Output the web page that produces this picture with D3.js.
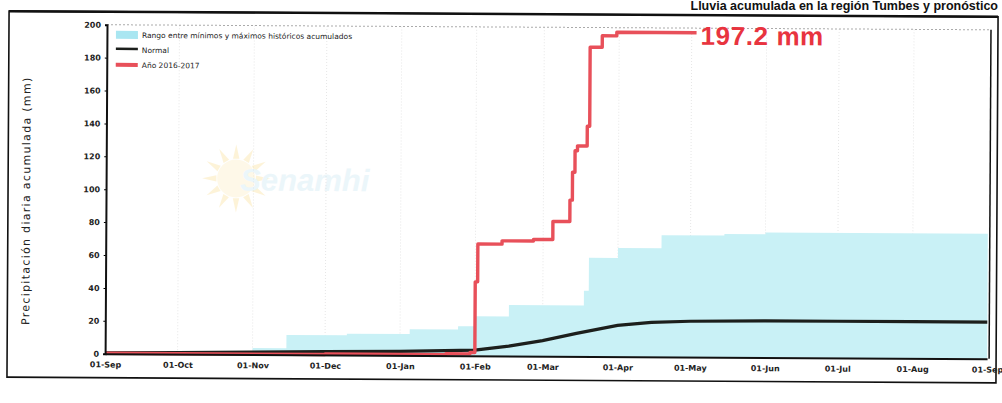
<!DOCTYPE html>
<html>
<head>
<meta charset="utf-8">
<script src="https://cdn.jsdelivr.net/npm/d3@7"></script>
<style>
  html, body { margin: 0; padding: 0; background: #fff; }
  svg { display: block; }
</style>
</head>
<body>
<svg id="chart" width="1002" height="403"></svg>
<script>
// Month ticks along the season (Sep 2016 - Sep 2017)
const monthTicks = ["2016-09-01","2016-10-01","2016-11-01","2016-12-01","2017-01-01","2017-02-01",
  "2017-03-01","2017-04-01","2017-05-01","2017-06-01","2017-07-01","2017-08-01","2017-09-01"];
const monthLabels = ["01-Sep","01-Oct","01-Nov","01-Dec","01-Jan","01-Feb",
  "01-Mar","01-Apr","01-May","01-Jun","01-Jul","01-Aug","01-Sep"];
const yTicks = [0,20,40,60,80,100,120,140,160,180,200];

// Historical max/min envelope of accumulated precipitation (upper edge, mm)
const rangeDates = ["2016-09-01","2016-10-15","2016-11-01","2016-11-15","2016-12-10","2017-01-05",
  "2017-01-25","2017-02-01","2017-02-15","2017-03-18","2017-03-20","2017-04-01","2017-04-19",
  "2017-05-15","2017-06-01","2017-09-01"];
const rangeUpper = [1,2,4,12,13,16,18,24,31,40,60,66,74,75,76,76];

// Climatological normal (mm)
const normalDates = ["2016-09-01","2016-10-01","2016-11-01","2016-12-01","2017-01-01","2017-02-01",
  "2017-02-15","2017-03-01","2017-03-15","2017-04-01","2017-04-15","2017-05-01","2017-06-01",
  "2017-07-01","2017-08-01","2017-09-01"];
const normalValues = [0.5,1,1.5,2,2.5,3.5,6,9.5,14,19,21,21.8,22.3,22.3,22.3,22.3];

// Season 2016-2017 accumulated precipitation (mm)
const seasonDates = ["2016-09-01","2016-12-01","2017-01-20","2017-01-30","2017-02-01","2017-02-02",
  "2017-02-12","2017-02-25","2017-03-05","2017-03-12","2017-03-13","2017-03-14","2017-03-15",
  "2017-03-19","2017-03-20","2017-03-25","2017-03-31","2017-05-03"];
const seasonValues = [0.3,0.6,1.2,2,45,68,70,71,82,95,112,125,128,140,188,195,197.2,197.2];

const totalLabel = "197.2 mm";
const legendLabels = ["Rango entre mínimos y máximos históricos acumulados", "Normal", "Año 2016-2017"];
const headingText = "Lluvia acumulada en la región Tumbes y pronóstico";

const parse = d3.timeParse("%Y-%m-%d");
const svg = d3.select("#chart");

// Heading above the frame, flush right
svg.append("text")
  .attr("x", 998).attr("y", 10).attr("text-anchor", "end")
  .attr("font-family", "Liberation Sans, Arial, sans-serif")
  .attr("font-weight", "bold").attr("font-size", 12.5).attr("fill", "#111")
  .text(headingText);

// Whole sheet is slightly skewed, as on the printed page
const g = svg.append("g").attr("transform", "rotate(0.33 501 200)");

// Outer frame
g.append("line").attr("x1", 8).attr("x2", 997).attr("y1", 14).attr("y2", 14)
  .attr("stroke", "#111").attr("stroke-width", 2.5);
g.append("rect").attr("x", 8).attr("y", 14).attr("width", 989).attr("height", 366)
  .attr("fill", "none").attr("stroke", "#111").attr("stroke-width", 1.6);

const x = d3.scaleTime().domain([parse("2016-09-01"), parse("2017-09-01")]).range([106, 988]);
const y = d3.scaleLinear().domain([0, 200]).range([356, 27]);

// Faint month gridlines and top gridline
g.append("g").selectAll("line").data(monthTicks.slice(1, -1)).join("line")
  .attr("x1", d => x(parse(d))).attr("x2", d => x(parse(d)))
  .attr("y1", y(200)).attr("y2", y(0))
  .attr("stroke", "#e6e6e6").attr("stroke-width", 1).attr("stroke-dasharray", "1,2");
g.append("line").attr("x1", x.range()[0]).attr("x2", 990)
  .attr("y1", y(200)).attr("y2", y(200))
  .attr("stroke", "#aaa").attr("stroke-width", 1).attr("stroke-dasharray", "2,2");

// Watermark
const wm = g.append("g").attr("opacity", 0.4);
const sunC = [236, 180];
wm.selectAll("path.ray").data(d3.range(12)).join("path")
  .attr("d", d => {
    const a = d * Math.PI / 6;
    const r0 = 20, r1 = 34, w = 0.16;
    const p = (r, t) => [sunC[0] + r * Math.cos(t), sunC[1] + r * Math.sin(t)];
    return "M" + p(r0, a - w) + "L" + p(r1, a) + "L" + p(r0, a + w) + "Z";
  })
  .attr("fill", "#fbe3a0");
wm.append("circle").attr("cx", sunC[0]).attr("cy", sunC[1]).attr("r", 19).attr("fill", "#fdf0c8");
wm.append("text").attr("x", 240).attr("y", 192)
  .attr("font-family", "Liberation Sans, Arial, sans-serif").attr("font-weight", "bold")
  .attr("font-style", "italic").attr("font-size", 31).attr("fill", "#cfe9f3")
  .text("Senamhi");

// Envelope area
const rangeData = rangeDates.map((d, i) => ({ date: parse(d), v: rangeUpper[i] }));
g.append("path").datum(rangeData)
  .attr("d", d3.area().curve(d3.curveStepAfter)
    .x(d => x(d.date)).y0(y(0)).y1(d => y(d.v)))
  .attr("fill", "#c9f1f6");

// Normal line
const normalData = normalDates.map((d, i) => ({ date: parse(d), v: normalValues[i] }));
g.append("path").datum(normalData)
  .attr("d", d3.line().x(d => x(d.date)).y(d => y(d.v)))
  .attr("fill", "none").attr("stroke", "#1c1f1c").attr("stroke-width", 3.2);

// Season line
const seasonData = seasonDates.map((d, i) => ({ date: parse(d), v: seasonValues[i] }));
g.append("path").datum(seasonData)
  .attr("d", d3.line().curve(d3.curveStepAfter).x(d => x(d.date)).y(d => y(d.v)))
  .attr("fill", "none").attr("stroke", "#e8505a").attr("stroke-width", 3.4)
  .attr("stroke-linejoin", "round");

const last = seasonData[seasonData.length - 1];
g.append("text").attr("x", x(last.date) + 4).attr("y", y(last.v) + 12)
  .attr("font-family", "Liberation Sans, Arial, sans-serif").attr("font-weight", "bold")
  .attr("font-size", 26).attr("letter-spacing", 0.6).attr("fill", "#e8343f")
  .text(totalLabel);

// Axes
const tickFont = sel => sel.selectAll("text")
  .attr("font-family", "DejaVu Sans, sans-serif").attr("font-size", 8)
  .attr("font-weight", "bold").attr("fill", "#222");

const yAxis = g.append("g").attr("transform", `translate(${x.range()[0]},0)`)
  .call(d3.axisLeft(y).tickValues(yTicks).tickSize(2).tickPadding(4));
yAxis.call(tickFont);
yAxis.select(".domain").attr("stroke", "#111").attr("stroke-width", 2);

const xAxis = g.append("g").attr("transform", `translate(0,${y(0)})`)
  .call(d3.axisBottom(x).tickValues(monthTicks.map(parse)).tickSize(0).tickPadding(8)
    .tickFormat((d, i) => monthLabels[i]));
xAxis.call(tickFont);
xAxis.select(".domain").attr("stroke", "#111").attr("stroke-width", 2);

// Right border of the plot
g.append("line").attr("x1", 990).attr("x2", 990).attr("y1", y(200)).attr("y2", y(0))
  .attr("stroke", "#111").attr("stroke-width", 1.5);

// Y axis title
g.append("text")
  .attr("transform", `translate(30,${(y(0) + y(200)) / 2 + 12}) rotate(-90)`)
  .attr("text-anchor", "middle")
  .attr("font-family", "DejaVu Sans, sans-serif").attr("font-size", 11)
  .attr("letter-spacing", 1.3).attr("fill", "#222")
  .text("Precipitación diaria acumulada (mm)");

// Legend
const lg = g.append("g").attr("font-family", "DejaVu Sans, sans-serif")
  .attr("font-size", 7.5).attr("fill", "#222");
lg.append("rect").attr("x", 115).attr("y", 33).attr("width", 22).attr("height", 8).attr("fill", "#a9e6f1");
lg.append("line").attr("x1", 115).attr("x2", 137).attr("y1", 51).attr("y2", 51)
  .attr("stroke", "#1c1f1c").attr("stroke-width", 2.5);
lg.append("line").attr("x1", 115).attr("x2", 137).attr("y1", 67).attr("y2", 67)
  .attr("stroke", "#e8505a").attr("stroke-width", 4);
lg.selectAll("text.lbl").data(legendLabels).join("text")
  .attr("x", 141).attr("y", (d, i) => 40 + i * 15)
  .text(d => d);
</script>
</body>
</html>
